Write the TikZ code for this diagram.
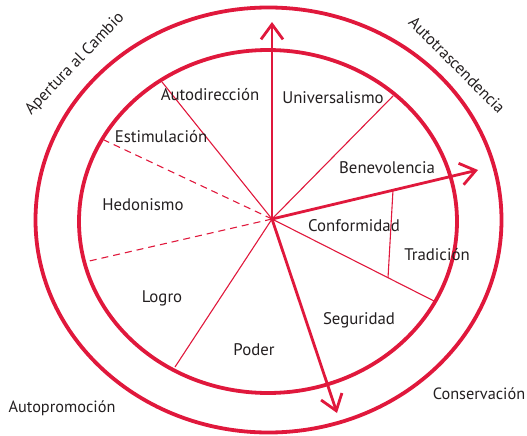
\documentclass[tikz,border=0pt]{standalone}
\usepackage{fontspec}
\setmainfont{PT Sans}
\usepackage{tikz}
\usetikzlibrary{arrows.meta, positioning}

\definecolor{valred}{RGB}{224,24,60}
\definecolor{valtext}{RGB}{35,31,32}

\begin{document}
\begin{tikzpicture}[
    x=1pt, y=-1pt,
    ring/.style={draw=valred, line width=3.8pt},
    divider/.style={draw=valred, line width=1.1pt},
    softdivider/.style={divider, dash pattern=on 7pt off 5pt},
    axis/.style={draw=valred, line width=2.8pt, -{Straight Barb[length=15pt, width=22pt]}},
    value/.style={text=valtext, font=\fontsize{16.8}{19}\selectfont, inner sep=1pt},
    group/.style={text=valtext, font=\fontsize{16.3}{19}\selectfont, inner sep=0pt}
]
\useasboundingbox (0,0) rectangle (527,436);

% Rings
\draw[ring] (268.5,220) ellipse [x radius=233, y radius=212.5];
\draw[ring] (268,221.5) ellipse [x radius=189, y radius=171.5];

% Points
\coordinate (centre) at (272,219);
\coordinate (top-tip) at (272,22);
\coordinate (right-tip) at (478,170);
\coordinate (down-tip) at (337,413);
\coordinate (autodir-end) at (162,82);
\coordinate (estim-end) at (104,140);
\coordinate (hedon-end) at (85,262);
\coordinate (logro-end) at (175,367);
\coordinate (univ-end) at (393,96);
\coordinate (segur-end) at (434,301);
\coordinate (trad-top) at (393,190);
\coordinate (trad-bottom) at (388,278);

% Dividers
\draw[divider] (centre) -- (autodir-end);
\draw[softdivider] (centre) -- (estim-end);
\draw[softdivider] (centre) -- (hedon-end);
\draw[divider] (centre) -- (logro-end);
\draw[divider] (centre) -- (univ-end);
\draw[divider] (centre) -- (segur-end);
\draw[divider] (trad-top) -- (trad-bottom);

% Axes
\draw[axis] (centre) -- (top-tip);
\draw[axis] (centre) -- (right-tip);
\draw[axis] (centre) -- (down-tip);

% Values
\node[value] (autodireccion) at (210,95) {Autodirección};
\node[value] (universalismo) at (333,98) {Universalismo};
\node[value] (estimulacion) at (161,137) {Estimulación};
\node[value] (benevolencia) at (387,168) {Benevolencia};
\node[value] (hedonismo) at (143,205) {Hedonismo};
\node[value] (conformidad) at (354,226) {Conformidad};
\node[value] (tradicion) at (437,255) {Tradición};
\node[value] (logro) at (162,298) {Logro};
\node[value] (seguridad) at (359,320) {Seguridad};
\node[value] (poder) at (254,350) {Poder};

% Higher-order groups
\node[group, rotate=46] (apertura) at (75,64) {Apertura al Cambio};
\node[group, rotate=-45] (autotrasc) at (457,65) {Autotrascendencia};
\node[group] (autopromocion) at (62,408) {Autopromoción};
\node[group] (conservacion) at (479,394) {Conservación};

\end{tikzpicture}
\end{document}
